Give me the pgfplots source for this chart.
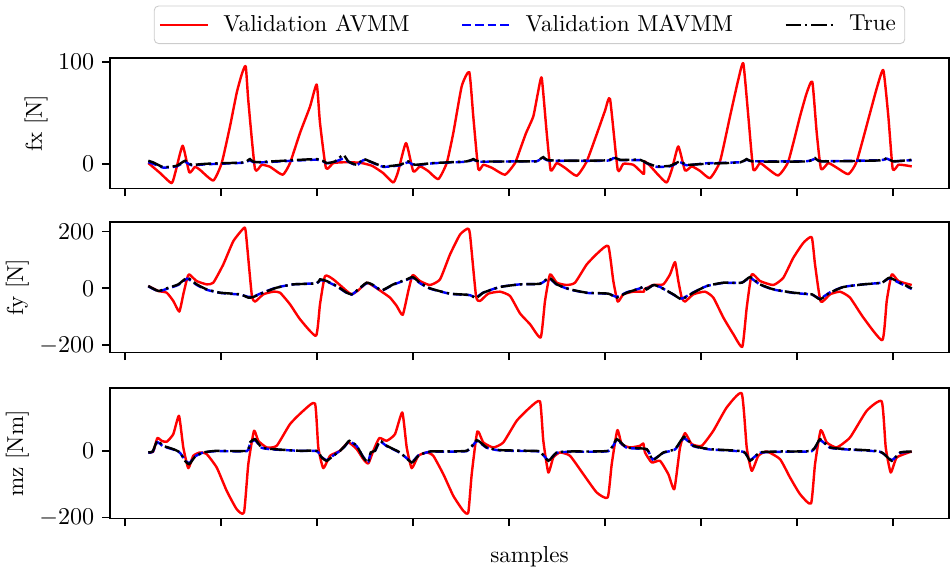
\documentclass[border=0pt]{standalone}
\usepackage{pgfplots}
\pgfplotsset{compat=1.18}
\pgfplotsset{
  panel/.style={
    scale only axis, width=381.4pt, height=59.3pt,
    xmin=110, xmax=949,
    xtick={125,221,317,413,509,605,701,797,893},
    xticklabels={},
    tick pos=left, tick align=outside,
    major tick length=3.5pt,
    every tick/.style={black, line width=0.8pt},
    axis line style={line width=0.8pt},
    ylabel style={inner sep=1pt},
  },
  avmm/.style={red, line width=1.1pt, smooth, tension=0.3, line join=round},
  mavmm/.style={blue, line width=1.1pt, smooth, tension=0.3, dash pattern=on 4pt off 1.8pt},
  truest/.style={black, line width=1.1pt, smooth, tension=0.3, dash pattern=on 7pt off 1.8pt on 1.1pt off 1.8pt},
}
\begin{document}
\fontsize{10.5}{12.6}\selectfont
\begin{tikzpicture}
% ---------------- fx ----------------
\begin{axis}[panel, at={(0,0)}, anchor=north west,
  ymin=-24.3, ymax=103.6, ytick={0,100}, ylabel={fx [N]},
  legend columns=3,
  legend image code/.code={\draw[#1] (0pt,0pt) -- (21.8pt,0pt);},
  legend style={at={(0.5,1)}, anchor=south, yshift=6.4pt, draw=black!20,
    rounded corners=2pt, inner sep=2pt,
    /tikz/every odd column/.append style={column sep=4.5pt},
    /tikz/every even column/.append style={column sep=21.4pt}},
]
\addplot[avmm] coordinates {
(148.3,0.7) (160,-9) (171.7,-19) (176,-6) (182.7,17.7) (189.3,-8.5) (195,-3) (200,-6)
(213.3,-16.4) (221.7,0.7) (230,36.7) (236.7,69.5) (241.7,87.5) (245.7,95.7) (248.3,62)
(255,-5.2) (261.7,-1) (270,-3) (282.7,-10.8) (290,0.7) (300,30.2) (310,56) (316.7,77.7)
(320,40) (326,-4.3) (333.3,0.7) (345,1.5) (360,1) (372,-2) (383,-9) (393.3,-18.4)
(398,-8) (406,20.3) (413.3,-7.5) (420,-2.6) (428,-7) (438.3,-15.1) (446.7,0.7)
(453.3,30.2) (461.7,76) (469.3,89.8) (473.3,46) (478.3,-5.2) (483.3,-1) (492,-4)
(505,-10.8) (515,0.7) (520,13.8) (526,30) (533.3,46.5) (538,70) (541.7,84.2)
(546.7,30.2) (550.7,-6.6) (556.7,0.7) (565,-4) (576.7,-11.8) (586.7,2.3) (598.3,33.4)
(605,52) (610,63.6) (617.7,-5.9) (623.3,0) (633.3,-1) (641.7,-8.5) (644,-9.8)
(644.4,2.3) (650,-2) (658.3,-11) (666.7,-18.4) (672,-5) (678.3,17) (685,-6.6)
(691.7,-2.6) (700,-7) (710,-14.1) (720,2.3) (730,46.5) (738.3,82.6) (743.3,98.3)
(748.3,46.5) (753.3,-5.9) (760,0.7) (768,-5) (778.3,-11.5) (788.3,2.3) (800,46.5)
(806.7,69.5) (812.3,80.3) (816.7,30.2) (821,-5.2) (828.3,0.7) (837,-4) (848.3,-10.2)
(856.7,2.3) (870,49.8) (877,75) (883.3,91.8) (888.3,46.5) (892.7,-5.2) (898.3,-1)
(905,-1.5) (911.7,-2.6)
};
\addlegendentry{Validation AVMM}
\addplot[mavmm] coordinates {
(148.3,1.5) (153.3,0) (163.3,-3.8) (176.7,-2.5) (185,1.8) (191.7,-1.5) (206.7,-0.5)
(243.3,1) (250,3.5) (256.7,1.2) (316.7,4) (326.7,0.5) (335,2) (343.3,5) (348.3,2)
(356.7,-1.5) (363.3,3.5) (370,2) (383.3,-3) (400,-1.5) (408.3,1.5) (415,-1.5)
(433.3,0.5) (466.7,2) (473.3,4) (480,2) (530,2.5) (536.7,2.5) (543.3,5.5) (550,3)
(606.7,3) (613.3,5.5) (620,3.5) (640,3.5) (646.7,0.5) (656.7,-3) (670,-2.5)
(680,1.5) (686.7,-1.5) (706.7,0.5) (740,1.5) (746.7,4) (753.3,2.5) (806.7,2.5)
(815,5) (821.7,2.5) (880,3.5) (886.7,5) (893.3,2.5) (911.7,3.5)
};
\addlegendentry{Validation MAVMM}
\addplot[truest] coordinates {
(148.3,2.9) (153.3,1.3) (163.3,-3.3) (176.7,-2) (185,2.9) (191.7,-1) (206.7,0)
(243.3,1.3) (250,4.6) (256.7,1.6) (316.7,4.6) (326.7,0.7) (335,2.3) (343.3,8.8)
(348.3,2.3) (356.7,-1) (363.3,4.6) (370,2.3) (383.3,-2.6) (400,-1) (408.3,2.3)
(415,-1) (433.3,0.7) (466.7,2.3) (473.3,4.6) (480,2.3) (530,2.3) (536.7,2.3)
(543.3,6.5) (550,3.3) (606.7,3.3) (613.3,6.5) (620,3.9) (640,3.9) (646.7,0.7)
(656.7,-2.6) (670,-2) (680,2.3) (686.7,-1) (706.7,0) (740,1.3) (746.7,4.6)
(753.3,2.3) (806.7,2.3) (815,5.6) (821.7,2.3) (880,3.3) (886.7,5.6) (893.3,2.3)
(911.7,3.9)
};
\addlegendentry{True}
\end{axis}
% ---------------- fy ----------------
\begin{axis}[panel, at={(0,-74.5pt)}, anchor=north west,
  ymin=-225, ymax=233, ytick={-200,0,200}, ylabel={fy [N]}]
\addplot[avmm] coordinates {
(148.3,8.2) (158.3,-9.3) (166.7,-15.2) (173.3,-44.3) (179.3,-81.6) (183.3,-21)
(187.3,37.3) (189.3,49) (196.7,25.6) (206.7,14) (213.3,19.8) (223.3,83.9) (233.3,165.5)
(243.3,209.8) (245.7,200.5) (251.7,-21) (255,-46.6) (263.3,-21) (273.3,-11.7)
(280,-15.2) (290,-55.9) (300,-108.4) (316,-166.7) (320,-55.9) (325,43.1) (333.3,31.5)
(346.7,-9.3) (351.7,-21) (358.3,-7) (366.7,19.8) (373.3,8.2) (381.7,-11.7) (390,-32.6)
(396.7,-61.8) (402.7,-93.2) (408.3,-9.3) (412.7,46.6) (420,25.6) (430,11.7) (440,31.5)
(450,118.9) (460,188.8) (467.7,209.8) (470,188.8) (476,-26.8) (480,-44.3) (488.3,-18.6)
(500,-11.7) (510,-26.8) (520,-88) (530,-125.9) (540.7,-172.5) (545,-44.3) (550,49)
(556.7,19.8) (566.7,11.7) (575,19.8) (586.7,83.9) (598.3,125.9) (608.3,148.5)
(613.3,25.6) (617.7,-46.6) (623.3,-21) (633.3,-11.7) (644,-11.7) (644.3,-3.5)
(653.3,11.7) (663.3,14) (670,49) (675,92.4) (678.3,25.6) (681.7,-32.6) (685,-46.6)
(693.3,-21) (705,-11.7) (713.3,-32.6) (723.3,-102.6) (733.3,-160.8) (742.3,-205)
(746.7,-67.6) (751.7,49) (760,25.6) (773.3,11.7) (783.3,37.3) (793.3,107.2)
(803.3,159.6) (811.7,179.5) (815,83.9) (820.7,-46.6) (830,-21) (840,-11.7) (850,-32.6)
(863.3,-102.6) (882.3,-182) (886.7,-44.3) (891.7,49) (898.3,25.6) (911.7,11.7)
};
\addplot[mavmm] coordinates {
(148.3,7) (158.3,-10) (166.7,-2) (178.3,12) (187.3,34) (196.7,12) (206.7,-5)
(220,-16) (240,-22) (248.3,-30) (253.3,-29) (263.3,-14) (276.7,3) (293.3,14)
(316.7,18) (320,29) (326.7,24) (336.7,7) (346.7,-16) (351.7,-22) (358.3,-4)
(366.7,18) (373.3,10) (381.7,-8) (393.3,13) (406.7,30) (412.7,37) (420,18) (430,-1)
(450,-19) (470,-24) (476,-32) (483.3,-15) (500,5) (520,14) (540,16) (549.3,35)
(556.7,13) (570,-4) (586.7,-16) (608.3,-19) (616.7,-30) (626.7,-14) (640,0)
(644,6) (646.7,-2) (653.3,11) (660,5) (673.3,-22) (681.7,-36) (693.3,-14) (706.7,8)
(723.3,19) (741.7,20) (750,37) (760,13) (773.3,-4) (793.3,-16) (811.7,-22) (820,-36)
(830,-14) (843.3,5) (863.3,14) (881.7,20) (889.3,35) (900,18) (911.7,-2)
};
\addplot[truest] coordinates {
(148.3,8.2) (158.3,-9.3) (166.7,0) (178.3,14) (187.3,37.3) (196.7,14) (206.7,-3.5)
(220,-15.2) (240,-21) (248.3,-32.6) (253.3,-30.3) (263.3,-15.2) (276.7,2.3) (293.3,14)
(316.7,17.5) (320,31.5) (326.7,25.6) (336.7,8.2) (346.7,-15.2) (351.7,-21) (358.3,-3.5)
(366.7,19.8) (373.3,11.7) (381.7,-7) (393.3,14) (406.7,31.5) (412.7,39.6) (420,19.8)
(430,0) (450,-18.6) (470,-23.3) (476,-34.9) (483.3,-15.2) (500,4.7) (520,14)
(540,16.3) (549.3,37.3) (556.7,14) (570,-3.5) (586.7,-15.2) (608.3,-18.6) (616.7,-32.6)
(626.7,-15.2) (640,0) (644,8.2) (646.7,-3.5) (653.3,11.7) (660,4.7) (673.3,-21)
(681.7,-38.5) (693.3,-15.2) (706.7,8.2) (723.3,19.8) (741.7,19.8) (750,39.6) (760,14)
(773.3,-3.5) (793.3,-15.2) (811.7,-21) (820,-38.5) (830,-15.2) (843.3,4.7) (863.3,14)
(881.7,19.8) (889.3,37.3) (900,19.8) (911.7,0)
};
\end{axis}
% ---------------- mz ----------------
\begin{axis}[panel, at={(0,-150pt)}, anchor=north west,
  ymin=-203, ymax=188, ytick={-200,0}, ylabel={mz [Nm]},
  xlabel={samples},
  xlabel style={at={(axis description cs:0.5,0)}, anchor=north, yshift=-9pt}]
\addplot[avmm] coordinates {
(148.3,-5) (153.3,-2) (157.3,38) (161.7,30) (166.7,27) (173.3,50) (179,105) (183.3,10)
(188.3,-52) (193.3,-15) (200,-5) (206.7,-10) (216.7,-50) (226.7,-120) (236.7,-175)
(244,-185) (248.3,-40) (254,60) (258.3,30) (266.7,10) (276.7,15) (290,80) (303.3,120)
(315,142) (318.3,10) (323.3,-52) (330,-15) (340,0) (348.3,25) (356.7,5) (363.3,-25)
(368.3,-38) (373.3,0) (379.3,38) (386.7,30) (395,50) (402.3,115) (406.7,10)
(411.7,-52) (418.3,-15) (426.7,-5) (433.3,-15) (443.3,-70) (453.3,-135) (463.3,-180)
(468.3,-185) (471.7,-70) (477.3,58) (483.3,25) (493.3,10) (503.3,25) (516.7,90)
(530,130) (540,148) (543.3,30) (548.3,-65) (553.3,-20) (560,-5) (570,-15) (583.3,-70)
(596.7,-125) (607.7,-140) (611.7,-40) (617.3,62) (621.7,20) (630,10) (640,15)
(643.3,22) (645,-5) (651.7,-35) (660,-30) (668.3,-70) (674.3,-115) (680,10) (685,53)
(691.7,20) (701.7,15) (713.3,60) (726.7,130) (741.7,172) (746.7,10) (751.7,-60)
(758.3,-15) (766.7,-2) (780,-25) (790,-80) (800,-130) (811,-158) (815,-40) (820.7,62)
(826.7,25) (836.7,10) (850,40) (866.7,120) (881.7,148) (885.7,10) (890.7,-65)
(896.7,-20) (911.7,-2)
};
\addplot[mavmm] coordinates {
(148.3,-6) (152.7,-3) (157.3,26) (163.3,13) (173.3,4) (180,-6) (185,-28) (189.3,-37)
(195,-17) (203.3,-5) (216.7,-1) (246.7,-1) (250,22) (255,32) (261.7,9) (273.3,4)
(300,0) (316.7,-1) (321.7,-19) (326.7,-28) (333.3,-14) (340,0) (345,14) (349.3,28)
(356.7,14) (363.3,-19) (368.3,-32) (370.7,-6) (375,0) (380,28) (386.7,14) (400,-6)
(411.7,-33) (418.3,-14) (430,-3) (466.7,-1) (476.7,29) (486.7,9) (500,1) (530,-1)
(540,-3) (548.3,-28) (556.7,-6) (570,-3) (608.3,-1) (616.7,32) (626.7,9) (646.7,4)
(652.7,-26) (663.3,-6) (675,4) (684,38) (693.3,14) (710,4) (743.3,-3) (750,-28)
(760,-6) (780,-3) (811.7,-1) (820,32) (830,9) (846.7,4) (880,-3) (891.7,-28)
(900,-6) (911.7,-3)
};
\addplot[truest] coordinates {
(148.3,-5) (152.7,-2) (157.3,30) (163.3,15) (173.3,5) (180,-5) (185,-30) (189.3,-40)
(195,-18) (203.3,-5) (216.7,0) (246.7,0) (250,25) (255,35) (261.7,10) (273.3,5)
(300,0) (316.7,0) (321.7,-20) (326.7,-30) (333.3,-15) (340,0) (345,15) (349.3,30)
(356.7,15) (363.3,-20) (368.3,-35) (370.7,-5) (375,0) (380,30) (386.7,15) (400,-5)
(411.7,-35) (418.3,-15) (430,-2) (466.7,0) (476.7,32) (486.7,10) (500,2) (530,0)
(540,-2) (548.3,-30) (556.7,-5) (570,-2) (608.3,0) (616.7,35) (626.7,10) (646.7,5)
(652.7,-28) (663.3,-5) (675,5) (684,42) (693.3,15) (710,5) (743.3,-2) (750,-30)
(760,-5) (780,-2) (811.7,0) (820,35) (830,10) (846.7,5) (880,-2) (891.7,-30)
(900,-5) (911.7,-2)
};
\end{axis}
\path (-50pt,26.4pt) rectangle (382.3pt,-232.7pt);
\end{tikzpicture}
\end{document}
